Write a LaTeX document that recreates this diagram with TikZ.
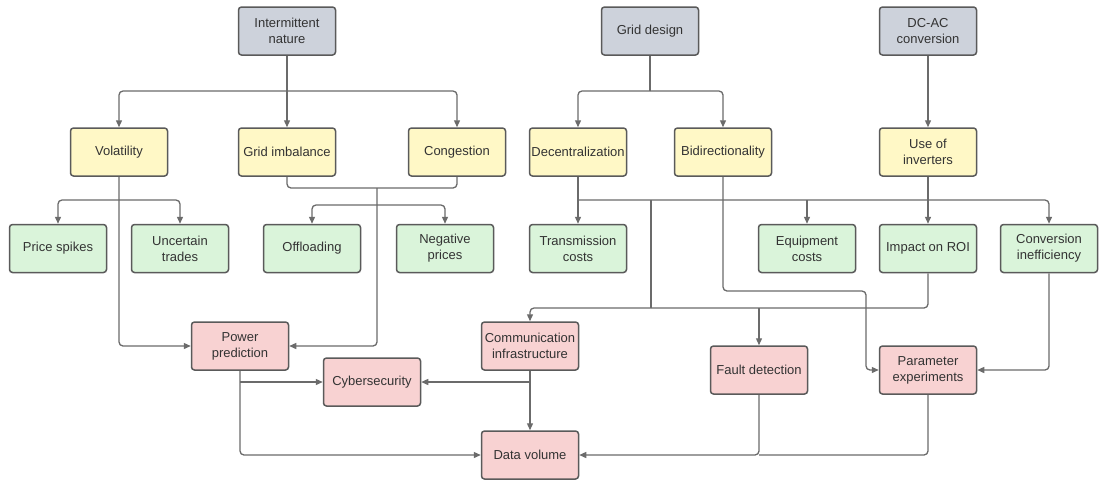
\documentclass[tikz,border=0pt]{standalone}
\usepackage{fontspec}
\setmainfont{Liberation Sans}
\usetikzlibrary{arrows.meta}

\definecolor{edgecol}{HTML}{5A5A5A}
\definecolor{linecol}{HTML}{6B6B6B}
\definecolor{txtcol}{HTML}{333333}
\definecolor{greyfill}{HTML}{CDD2DB}
\definecolor{yellowfill}{HTML}{FFF8C6}
\definecolor{greenfill}{HTML}{DAF4DA}
\definecolor{pinkfill}{HTML}{F8D2D2}

\tikzset{
  box/.style={draw=edgecol, line width=1.5pt, rounded corners=3pt,
    minimum width=97pt, minimum height=48pt, inner xsep=0pt, inner ysep=2pt,
    align=center, text=txtcol, font=\fontsize{13}{16}\selectfont},
  cause/.style={box, fill=greyfill},
  effect/.style={box, fill=yellowfill},
  impact/.style={box, fill=greenfill},
  need/.style={box, fill=pinkfill},
  wire/.style={draw=linecol, line width=1.3pt, rounded corners=4pt},
  arr/.style={wire, -{Triangle[length=7pt,width=6pt]}, color=linecol},
}

\begin{document}
\begin{tikzpicture}[x=1pt, y=-1pt]
\useasboundingbox (0,0) rectangle (1099,483);
\fill[white] (0,0) rectangle (1099,483);

% root causes
\node[cause] (int)  at (287,31)  {Intermittent\\nature};
\node[cause] (gd)   at (650,31)  {Grid design};
\node[cause] (dcac) at (928,31)  {DC-AC\\conversion};

% first-order effects
\node[effect] (vol)  at (119,152) {Volatility};
\node[effect] (imb)  at (287,152) {Grid imbalance};
\node[effect] (cong) at (457,152) {Congestion};
\node[effect] (dec)  at (578,152) {Decentralization};
\node[effect] (bid)  at (723,152) {Bidirectionality};
\node[effect] (inv)  at (928,152) {Use of\\inverters};

% economic impacts
\node[impact] (ps)    at (58,248.5)   {Price spikes};
\node[impact] (ut)    at (180,248.5)  {Uncertain\\trades};
\node[impact] (off)   at (312,248.5)  {Offloading};
\node[impact] (neg)   at (445,248.5)  {Negative\\prices};
\node[impact] (trans) at (578,248.5)  {Transmission\\costs};
\node[impact] (eq)    at (807,248.5)  {Equipment\\costs};
\node[impact] (roi)   at (928,248.5)  {Impact on ROI};
\node[impact] (conv)  at (1049,248.5) {Conversion\\inefficiency};

% technical needs
\node[need] (pp)   at (240,346)   {Power\\prediction};
\node[need] (cyb)  at (372,382)   {Cybersecurity};
\node[need] (comm) at (530,346)   {Communication\\infrastructure};
\node[need] (fd)   at (759,370)   {Fault detection};
\node[need] (pe)   at (928,370)   {Parameter\\experiments};
\node[need] (dv)   at (530,455)   {Data volume};

% junction points
\coordinate (jInt)  at (287,91);
\coordinate (jGd)   at (650,91);
\coordinate (jVol)  at (119,200);
\coordinate (jMkt)  at (377,188);
\coordinate (jOff)  at (377,205);
\coordinate (bus)   at (578,200);
\coordinate (jBus)  at (651,200);
\coordinate (jLow)  at (651,308);
\coordinate (kBid)  at (866,291);

% intermittent nature
\draw[arr] (int.south) -- (imb.north);
\draw[arr] (jInt) -| (vol.north);
\draw[arr] (jInt) -| (cong.north);

% grid design
\draw[wire] (gd.south) -- (jGd);
\draw[arr] (jGd) -| (dec.north);
\draw[arr] (jGd) -| (bid.north);

% dc-ac conversion
\draw[arr] (dcac.south) -- (inv.north);

% volatility
\draw[arr] (vol.south) |- (pp.west);
\draw[arr] (jVol) -| (ps.north);
\draw[arr] (jVol) -| (ut.north);

% grid imbalance and congestion
\draw[wire] (imb.south) |- (jMkt) -| (cong.south);
\draw[arr] (jMkt) |- (pp.east);
\draw[arr] (jOff) -| (off.north);
\draw[arr] (jOff) -| (neg.north);

% grid design effects bus
\draw[arr] (dec.south) -- (trans.north);
\draw[arr] (bus) -| (conv.north);
\draw[arr] (eq.north |- bus) -- (eq.north);
\draw[arr] (inv.south) -- (roi.north);
\draw[arr] (bid.south) |- (kBid) |- (pe.west);
\draw[wire] (jBus) -- (jLow);
\draw[arr] (jLow) -| (comm.north);
\draw[wire] (roi.south) |- (jLow);
\draw[arr] (fd.north |- jLow) -- (fd.north);
\draw[arr] (conv.south) |- (pe.east);

% technical needs
\draw[arr] (pp.south) |- (dv.west);
\draw[arr] (pp.south |- cyb.west) -- (cyb.west);
\draw[arr] (comm.south) -- (dv.north);
\draw[arr] (comm.south |- cyb.east) -- (cyb.east);
\draw[arr] (fd.south) |- (dv.east);
\draw[wire] (pe.south) |- (fd.south |- dv.east);
\end{tikzpicture}
\end{document}
